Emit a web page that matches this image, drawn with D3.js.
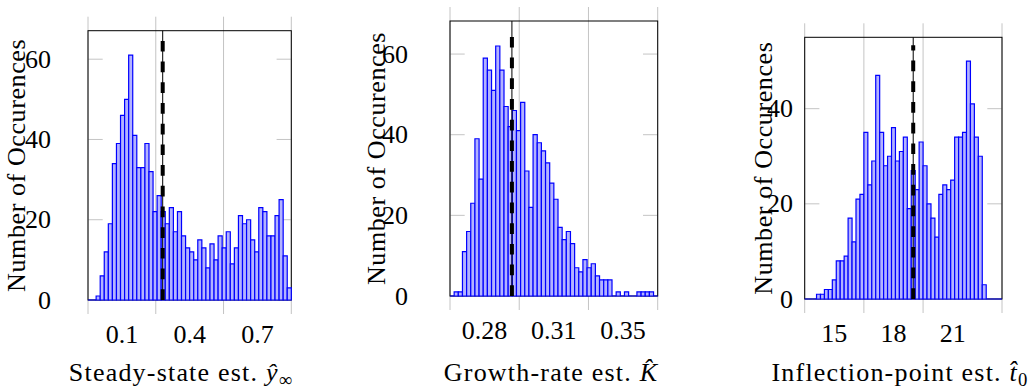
<!DOCTYPE html>
<html>
<head>
<meta charset="utf-8">
<script src="https://cdn.jsdelivr.net/npm/d3@7"></script>
<style>
  html, body { margin: 0; padding: 0; background: #fff; }
  svg { display: block; }
</style>
</head>
<body>
<svg id="chart" width="1033" height="388" font-family="'Liberation Serif', 'Times New Roman', 'DejaVu Serif', serif"></svg>
<script>
// ---------- data ----------
const steadyStateCounts = [0,0,1,6,12,19,34,39,46,50,61,41,33,33,39,32,22,26,22,19,23,17,22,16,13,12,10,15,13,8,14,10,16,13,17,9,13,21,19,20,15,12,23,22,16,16,21,25,11,3];
const steadyStateRange = [-0.05, 0.85];
const steadyStateGrid = [-0.05, 0.25, 0.55, 0.85];
const steadyStateTickPos = [0.1, 0.4, 0.7];
const steadyStateTickLabels = ["0.1", "0.4", "0.7"];
const steadyStateRef = 0.2807;

const growthRateCounts = [0,1,1,11,16,23,39,29,59,56,51,62,56,47,42,46,41,48,31,22,40,38,36,33,28,24,17,14,16,13,7,6,9,7,8,5,4,4,4,0,1,0,1,0,0,1,1,1,1,0];
const growthRateRange = [0.26, 0.365];
const growthRateGrid = [0.26, 0.295, 0.33, 0.365];
const growthRateTickPos = [0.2775, 0.3125, 0.3475];
const growthRateTickLabels = ["0.28", "0.31", "0.35"];
const growthRateRef = 0.2913;

const inflectionCounts = [0,0,0,1,1,2,2,4,8,8,9,17,12,21,22,35,24,29,47,35,28,30,36,29,31,34,19,27,23,33,28,20,17,13,22,24,23,25,34,34,35,50,41,34,30,3,0,0,0,0];
const inflectionRange = [13.5, 23.5];
const inflectionGrid = [13.5, 16.5, 19.5, 23.5];
const inflectionTickPos = [15, 18, 21];
const inflectionTickLabels = ["15", "18", "21"];
const inflectionRef = 19.0;

const yTicksA = [0, 20, 40, 60];
const yTicksB = [0, 20, 40, 60];
const yTicksC = [0, 20, 40];

const yAxisTitle = "Number of Occurences";

// ---------- panels (layout) ----------
const panels = [
  { counts: steadyStateCounts, range: steadyStateRange, grid: steadyStateGrid, tickPos: steadyStateTickPos,
    tickLabels: steadyStateTickLabels, ref: steadyStateRef, yTicks: yTicksA,
    box: { l: 88, r: 291.3, t: 30.7, b: 300 }, yLabelRight: 51, yTitleX: 17, xTitleX: 181,
    title: [{t: "Steady-state est. "}, {t: "ŷ", it: true}, {t: "∞", sub: true}] },
  { counts: growthRateCounts, range: growthRateRange, grid: growthRateGrid, tickPos: growthRateTickPos,
    tickLabels: growthRateTickLabels, ref: growthRateRef, yTicks: yTicksB,
    box: { l: 450, r: 657.7, t: 21, b: 296 }, yLabelRight: 408, yTitleX: 377, xTitleX: 551,
    title: [{t: "Growth-rate est. "}, {t: "K\u0302", it: true}] },
  { counts: inflectionCounts, range: inflectionRange, grid: inflectionGrid, tickPos: inflectionTickPos,
    tickLabels: inflectionTickLabels, ref: inflectionRef, yTicks: yTicksC,
    box: { l: 804.7, r: 1002, t: 37.3, b: 299 }, yLabelRight: 793, yTitleX: 764, xTitleX: 900,
    title: [{t: "Inflection-point est. "}, {t: "t\u0302", it: true}, {t: "0", sub: true}] }
];

const svg = d3.select("#chart");
const FS = 26;
const gridColor = "#c4c4c4";

panels.forEach((p, pi) => {
  const g = svg.append("g");
  const B = p.box;
  const x = d3.scaleLinear().domain(p.range).range([B.l, B.r]);
  const ymax = d3.max(p.counts) * 1.1;
  const y = d3.scaleLinear().domain([0, ymax]).range([B.b, B.t]);
  const n = p.counts.length;
  const w = (p.range[1] - p.range[0]) / n;

  // vertical grid + tick marks (extending outside box)
  g.selectAll(".vgrid").data(p.grid).join("line")
    .attr("x1", d => x(d)).attr("x2", d => x(d))
    .attr("y1", B.t - 14).attr("y2", B.b + 14)
    .attr("stroke", gridColor).attr("stroke-width", 1);

  // y tick marks inside, both sides
  p.yTicks.forEach(v => {
    g.append("line").attr("x1", B.l).attr("x2", B.l + 14.7)
      .attr("y1", y(v)).attr("y2", y(v)).attr("stroke", gridColor).attr("stroke-width", 1);
    g.append("line").attr("x1", B.r - 14.7).attr("x2", B.r)
      .attr("y1", y(v)).attr("y2", y(v)).attr("stroke", gridColor).attr("stroke-width", 1);
  });

  // box
  g.append("rect").attr("x", B.l).attr("y", B.t)
    .attr("width", B.r - B.l).attr("height", B.b - B.t)
    .attr("fill", "none").attr("stroke", "#000").attr("stroke-width", 1);

  // bars
  g.selectAll(".bar").data(p.counts).join("path")
    .attr("d", (c, i) => {
      const x0 = x(p.range[0] + i * w), x1 = x(p.range[0] + (i + 1) * w);
      const y0 = y(0), y1 = y(c);
      return `M${x0},${y0}V${y1}H${x1}V${y0}Z`;
    })
    .attr("fill", "#b3b3ff").attr("stroke", "#0000ff").attr("stroke-width", 1.2)
    .attr("stroke-linejoin", "miter");

  // reference line: thin solid + thick dashed
  const rx = x(p.ref);
  g.append("line").attr("x1", rx).attr("x2", rx).attr("y1", B.t).attr("y2", B.b)
    .attr("stroke", "#000").attr("stroke-width", 1);
  g.append("line").attr("x1", rx).attr("x2", rx).attr("y1", B.b).attr("y2", B.t + 8)
    .attr("stroke", "#000").attr("stroke-width", 4).attr("stroke-dasharray", "10.7,10");

  // y tick labels
  g.selectAll(".ylab").data(p.yTicks).join("text")
    .attr("x", p.yLabelRight).attr("y", d => y(d)).attr("dy", "0.33em")
    .attr("text-anchor", "end").attr("font-size", FS).text(d => d);

  // x tick labels
  g.selectAll(".xlab").data(p.tickPos).join("text")
    .attr("x", d => x(d)).attr("y", B.b + 43)
    .attr("text-anchor", "middle").attr("font-size", FS)
    .text((d, i) => p.tickLabels[i]);

  // y title
  g.append("text")
    .attr("transform", `translate(${p.yTitleX + 8},${(B.t + B.b) / 2}) rotate(-90)`)
    .attr("text-anchor", "middle").attr("font-size", FS).attr("letter-spacing", 0.6)
    .text(yAxisTitle);

  // x title
  const tt = g.append("text").attr("x", p.xTitleX).attr("y", 381)
    .attr("text-anchor", "middle").attr("font-size", FS).attr("letter-spacing", 1.2);
  p.title.forEach(s => {
    const ts = tt.append("tspan").text(s.t);
    if (s.it) ts.attr("font-style", "italic");
    if (s.sub) ts.attr("font-size", FS * 0.72).attr("dy", 5);
  });
});
</script>
</body>
</html>
